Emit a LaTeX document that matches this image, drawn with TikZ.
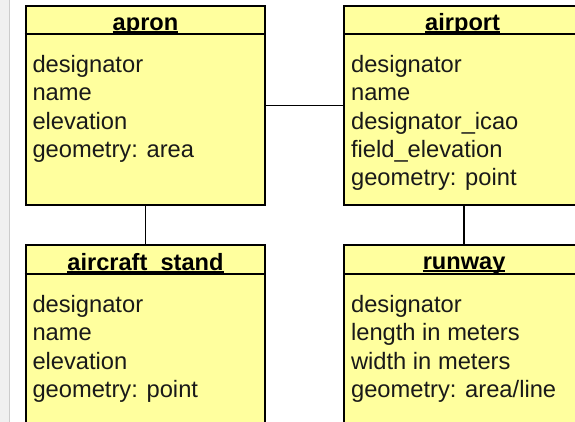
\documentclass[tikz,border=0pt]{standalone}
\usepackage{fontspec}
\setmainfont{Liberation Sans}
\definecolor{classfill}{RGB}{255,255,158}
\definecolor{stripgray}{RGB}{240,240,240}
% underline that sits just under the baseline, crossing the descenders
\newcommand\ulbase[1]{\setbox0\hbox{#1}\rlap{\rule[-2.1pt]{\wd0}{1.5pt}}\box0}
\begin{document}
\begin{tikzpicture}[x=1pt,y=-1pt,
  classbox/.style={draw=black, line width=2pt, fill=classfill, rectangle,
    minimum width=239.6pt, inner sep=0pt, anchor=north west},
  titletext/.style={font=\fontsize{23.6}{28.3}\selectfont\bfseries, inner sep=0pt, anchor=base},
  attrtext/.style={font=\fontsize{23.7}{28.3}\selectfont, inner sep=0pt, anchor=base west, text=black!90},
  link/.style={draw=black, line width=1.6pt},
  sep/.style={draw=black, line width=2pt}
]
\useasboundingbox (0,0) rectangle (575,422);
\clip (0,0) rectangle (575,422);
\fill[white] (0,0) rectangle (575,422);

% page edge strip
\fill[stripgray] (0,0) rectangle (9,422);
\draw[gray!40, line width=1pt] (9.5,0) -- (9.5,422);

% class boxes
\node[classbox, minimum height=199.3pt] (apron) at (24.7,4.7) {};
\node[classbox, minimum height=199.3pt] (airport) at (343.3,4.7) {};
\node[classbox, minimum height=210pt] (stand) at (24.7,244) {};
\node[classbox, minimum height=210pt] (runway) at (343.3,244) {};

% title separators
\foreach \b in {apron,airport,stand,runway}
  \draw[sep] ([yshift=-29.6pt]\b.north west) -- ([yshift=-29.6pt]\b.north east);

% associations
\draw[link] (apron.east) -- (airport.west);
\draw[link] (apron.south) -- (stand.north);
\draw[link] (airport.south) -- (runway.north);

% titles
\node[titletext] (apronT) at ([yshift=-25.8pt]apron.north) {\ulbase{apron}};
\node[titletext] (airportT) at ([xshift=-1.5pt,yshift=-25.8pt]airport.north) {\ulbase{airport}};
\node[titletext] (standT) at ([yshift=-26.5pt]stand.north) {\ulbase{aircraft\_stand}};
\node[titletext] (runwayT) at ([yshift=-25.5pt]runway.north) {\ulbase{runway}};

% attributes
\node[attrtext] (apronA) at ([xshift=7.6pt,yshift=-68pt]apron.north west)
  {\vtop{\hbox{designator}\hbox{name}\hbox{elevation}\hbox{geometry: area}}};
\node[attrtext] (airportA) at ([xshift=7.6pt,yshift=-68pt]airport.north west)
  {\vtop{\hbox{designator}\hbox{name}\hbox{designator\_icao}\hbox{field\_elevation}\hbox{geometry: point}}};
\node[attrtext] (standA) at ([xshift=7.6pt,yshift=-68.5pt]stand.north west)
  {\vtop{\hbox{designator}\hbox{name}\hbox{elevation}\hbox{geometry: point}}};
\node[attrtext] (runwayA) at ([xshift=7.6pt,yshift=-68.5pt]runway.north west)
  {\vtop{\hbox{designator}\hbox{length in meters}\hbox{width in meters}\hbox{geometry: area/line}}};
\end{tikzpicture}
\end{document}
